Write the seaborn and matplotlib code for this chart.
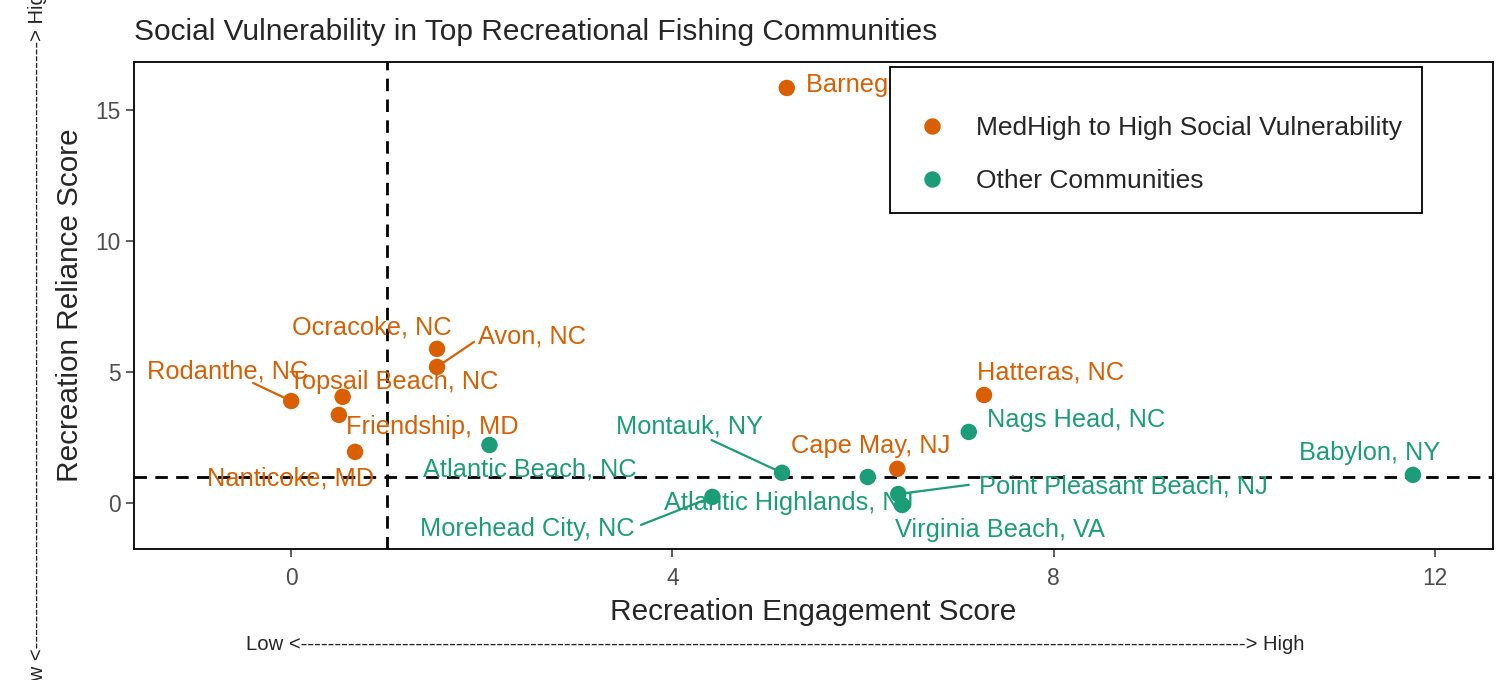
import numpy as np
import pandas as pd
import matplotlib
matplotlib.use("Agg")
import matplotlib.pyplot as plt
import seaborn as sns

# -----------------------------------------------------------------------------
# DATA
# -----------------------------------------------------------------------------

communities = [
    "Barnegat Light, NJ", "Ocracoke, NC", "Avon, NC", "Rodanthe, NC",
    "Topsail Beach, NC", "Friendship, MD", "Nanticoke, MD", "Atlantic Beach, NC",
    "Montauk, NY", "Morehead City, NC", "Atlantic Highlands, NJ", "Cape May, NJ",
    "Point Pleasant Beach, NJ", "Virginia Beach, VA", "Hatteras, NC",
    "Nags Head, NC", "Babylon, NY",
]
engagement = [5.20, 1.53, 1.53, 0.00, 0.54, 0.50, 0.67, 2.08,
              5.15, 4.42, 6.05, 6.36, 6.37, 6.41, 7.27, 7.11, 11.77]
reliance = [15.84, 5.88, 5.19, 3.89, 4.05, 3.36, 1.95, 2.21,
            1.15, 0.23, 0.99, 1.30, 0.34, -0.08, 4.12, 2.71, 1.07]
HIGH = "MedHigh to High Social Vulnerability"
OTHER = "Other Communities"
group = [HIGH, HIGH, HIGH, HIGH, HIGH, HIGH, HIGH, OTHER,
         OTHER, OTHER, OTHER, HIGH, OTHER, OTHER, HIGH, OTHER, OTHER]

ENGAGE_CUT = 1
RELIANCE_CUT = 1

df = pd.DataFrame({"community": communities, "engagement": engagement,
                   "reliance": reliance, "group": group})

palette = {HIGH: "#D95F02", OTHER: "#1B9E77"}

# repelled label placement (text x, text y, ha, optional segment end)
label_pos = {
    "Barnegat Light, NJ": (5.40, 15.95, "left", None),
    "Ocracoke, NC": (0.85, 6.70, "center", None),
    "Avon, NC": (2.53, 6.34, "center", (1.92, 6.15)),
    "Rodanthe, NC": (-0.67, 5.00, "center", (-0.40, 4.58)),
    "Topsail Beach, NC": (1.08, 4.62, "center", None),
    "Friendship, MD": (1.48, 2.90, "center", None),
    "Nanticoke, MD": (-0.01, 0.95, "center", None),
    "Atlantic Beach, NC": (2.50, 1.26, "center", None),
    "Montauk, NY": (4.18, 2.90, "center", (4.41, 2.40)),
    "Morehead City, NC": (2.48, -0.99, "center", (3.67, -0.84)),
    "Atlantic Highlands, NJ": (5.22, 0.00, "center", None),
    "Cape May, NJ": (6.08, 2.18, "center", None),
    "Point Pleasant Beach, NJ": (8.73, 0.61, "center", (7.11, 0.69)),
    "Virginia Beach, VA": (7.44, -1.03, "center", None),
    "Hatteras, NC": (7.97, 4.96, "center", None),
    "Nags Head, NC": (8.24, 3.17, "center", None),
    "Babylon, NY": (11.32, 1.91, "center", None),
}

# -----------------------------------------------------------------------------
# PLOT
# -----------------------------------------------------------------------------

sns.set_theme(style="white")
plt.rcParams["font.family"] = ["Liberation Sans", "DejaVu Sans"]

fig = plt.figure(figsize=(15.12, 6.8), dpi=100)
ax = fig.add_axes([0.0886, 0.1926, 0.8988, 0.7162])

ax.axvline(ENGAGE_CUT, color="black", linestyle=(0, (4.5, 3)), linewidth=2.0, zorder=1)
ax.axhline(RELIANCE_CUT, color="black", linestyle=(0, (4.5, 3)), linewidth=2.0, zorder=1)

sns.scatterplot(data=df, x="engagement", y="reliance", hue="group",
                hue_order=[HIGH, OTHER], palette=palette, s=140,
                edgecolor="none", ax=ax, zorder=3)

for name, xv, yv, grp in zip(communities, engagement, reliance, group):
    tx, ty, ha, seg = label_pos[name]
    col = palette[grp]
    if seg is not None:
        ax.plot([xv, seg[0]], [yv, seg[1]], color=col, linewidth=1.6, zorder=2)
    ax.text(tx, ty, name, color=col, fontsize=18.3, ha=ha, va="center", zorder=4)

ax.set_xlim(-1.65, 12.61)
ax.set_ylim(-1.76, 16.83)
ax.set_xticks([0, 4, 8, 12])
ax.set_yticks([0, 5, 10, 15])
ax.tick_params(axis="both", which="both", direction="out", length=6, width=1.1,
               color="#333333", labelcolor="#4D4D4D", labelsize=16.4,
               bottom=True, left=True)
ax.tick_params(axis="x", pad=7)
for sp in ax.spines.values():
    sp.set_color("black")
    sp.set_linewidth(1.3)

ax.set_xlabel("Recreation Engagement Score", fontsize=21.4, labelpad=6)
ax.set_ylabel("Recreation Reliance Score", fontsize=21.4, labelpad=8)
ax.set_title("Social Vulnerability in Top Recreational Fishing Communities",
             fontsize=21.5, loc="left", pad=16)

handles, labels = ax.get_legend_handles_labels()
leg = ax.legend(handles, labels, loc="upper left",
                bbox_to_anchor=(890 / 1512, 1 - 67 / 680),
                bbox_transform=fig.transFigure, frameon=True, fancybox=False,
                framealpha=1.0, fontsize=19, markerscale=1.0, borderpad=0.75,
                labelspacing=1.08, handlelength=1.65, handletextpad=0.87,
                borderaxespad=0, title=" ", title_fontproperties={"size": 1})
leg.get_frame().set_edgecolor("black")
leg.get_frame().set_linewidth(1.3)
leg.set_zorder(10)

x_arrow = "Low <" + "-" * 140 + "> High"
y_arrow = "Low <" + "-" * 90 + "> High"
fig.text(246 / 1512, 1 - 644 / 680, x_arrow, fontsize=14.6, ha="left", va="center")
fig.text(38 / 1512, 0.4963, y_arrow, fontsize=14.6, rotation=90, ha="center", va="center")

fig.savefig("out.png", dpi=100)
